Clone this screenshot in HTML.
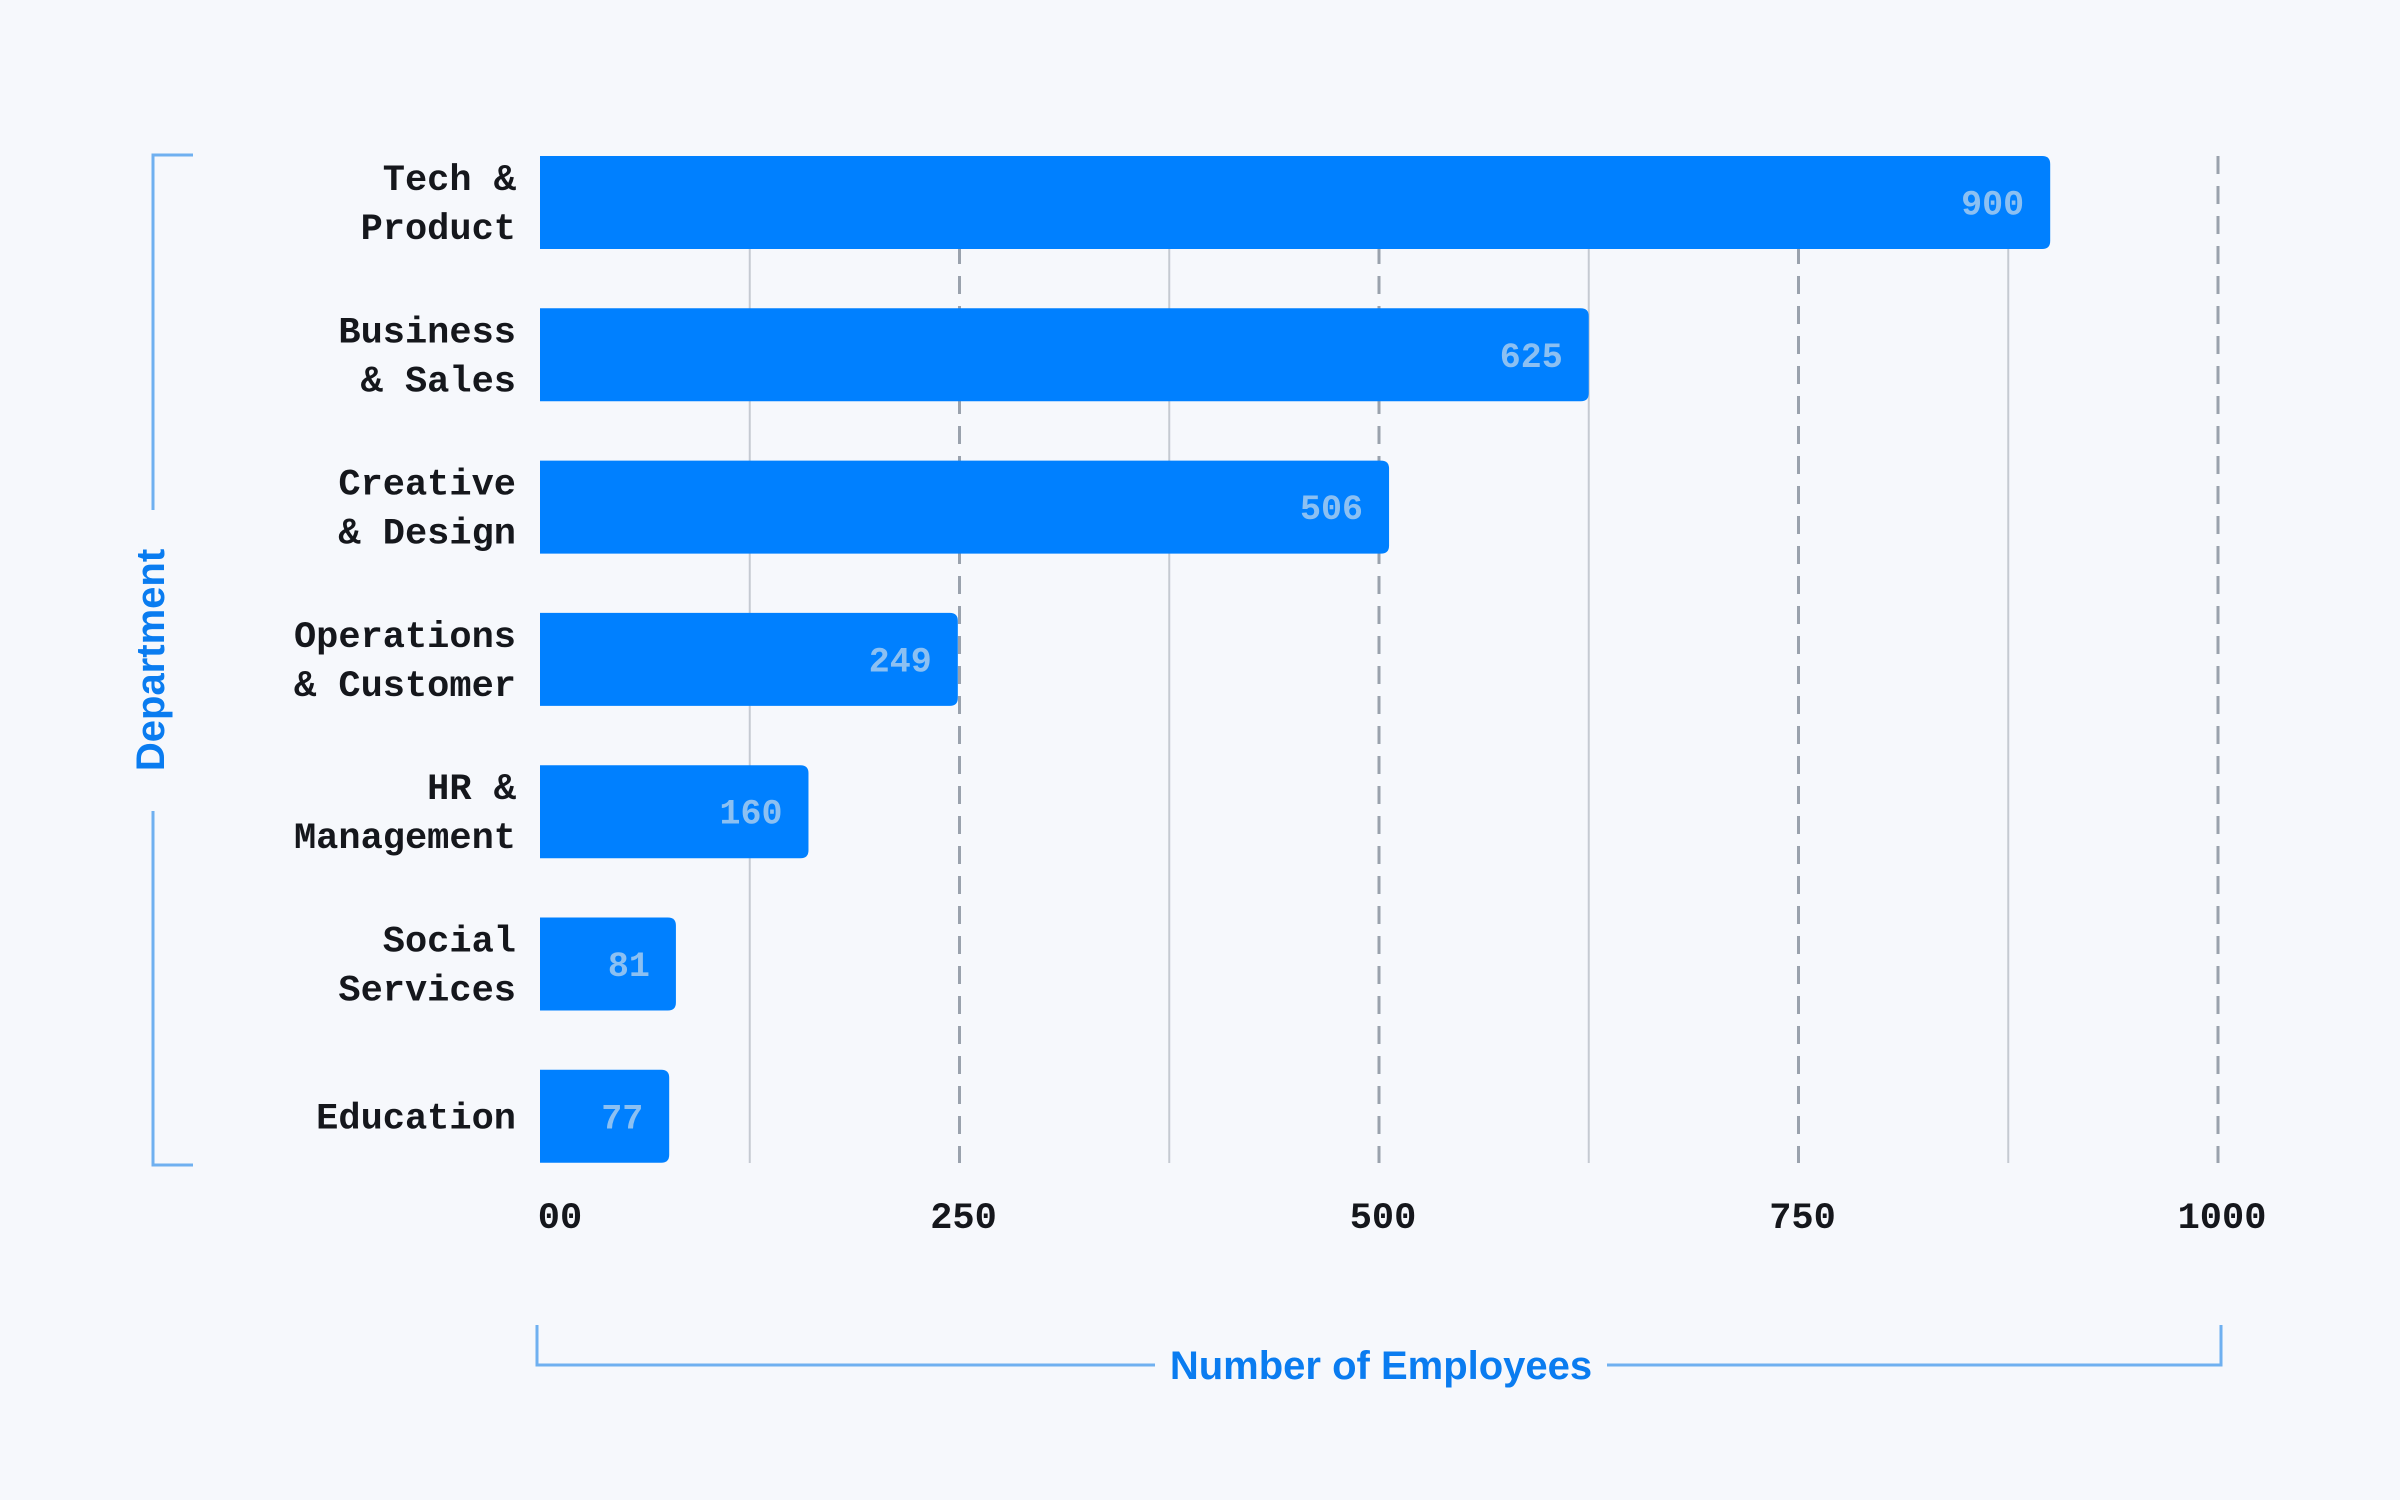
<!DOCTYPE html>
<html><head><meta charset="utf-8"><style>
html,body{margin:0;padding:0;background:#f6f8fc;}
svg{display:block;}
.cat{font-family:"Liberation Mono",monospace;font-weight:bold;font-size:37px;fill:#15171c;}
.val{font-family:"Liberation Mono",monospace;font-weight:bold;font-size:35px;fill:#8cc0f2;}
.tick{font-family:"Liberation Mono",monospace;font-weight:bold;font-size:37px;fill:#15171c;}
.axt{font-family:"Liberation Sans",sans-serif;font-weight:bold;font-size:40px;fill:#0a7cf0;}
</style></head><body>
<svg id="chart" width="2400" height="1500" viewBox="0 0 2400 1500" xmlns="http://www.w3.org/2000/svg">
<rect width="2400" height="1500" fill="#f6f8fc"/>
<g id="grid"></g>
<g id="bars"></g>
<g id="ticks"></g>
<path d="M193 155 H153 V510 M153 811 V1165 H193" fill="none" stroke="#6fb0f0" stroke-width="3"/>
<text class="axt" transform="translate(164,660) rotate(-90)" text-anchor="middle">Department</text>
<path d="M537 1325 V1365 H1155 M1607 1365 H2221 V1325" fill="none" stroke="#6fb0f0" stroke-width="3"/>
<text class="axt" x="1381" y="1379" text-anchor="middle">Number of Employees</text>
</svg>
<script>
const categories = [["Tech &","Product"],["Business","& Sales"],["Creative","& Design"],["Operations","& Customer"],["HR &","Management"],["Social","Services"],["Education"]];
const values = [900,625,506,249,160,81,77];
const tickValues = [0,250,500,750,1000];
const tickLabels = ["00","250","500","750","1000"];
const minorGrid = [125,375,625,875];

const NS="http://www.w3.org/2000/svg";
const X0=540,X1=2218,VMAX=1000;
const x=v=>X0+(v/VMAX)*(X1-X0);
const TOP=156,STEP=152.3,BH=93;
const y=i=>TOP+i*STEP;
const GT=156,GB=1163;
function mk(tag,attrs,parent){const e=document.createElementNS(NS,tag);for(const k in attrs)e.setAttribute(k,attrs[k]);parent.appendChild(e);return e;}
const grid=document.getElementById('grid'),bars=document.getElementById('bars'),ticks=document.getElementById('ticks');
minorGrid.forEach(v=>{
  const l=mk('line',{x1:x(v),x2:x(v),y1:GT,y2:GB,stroke:'#c5cad2','stroke-width':2},grid);
  
  
});
tickValues.forEach((v,i)=>{
  if(v>0){
    const l=mk('line',{x1:x(v),x2:x(v),y1:GT,y2:GB,stroke:'#9aa2ad','stroke-width':3,'stroke-dasharray':'18 12'},grid);
    
    
  }
  const t=mk('text',{x:v===0?x(v)+20:x(v)+4,y:1228,'text-anchor':'middle',class:'tick'},ticks);
  t.textContent=tickLabels[i];
  
  
});
values.forEach((v,i)=>{
  const x0=X0,x1=x(v),t=y(i),b=t+BH,r=8;
  const p=mk('path',{d:`M${x0} ${t} H${x1-r} Q${x1} ${t} ${x1} ${t+r} V${b-r} Q${x1} ${b} ${x1-r} ${b} H${x0} Z`,fill:'#0080ff'},bars);
  
  
  const vt=mk('text',{x:x1-26,y:t+BH/2+12,'text-anchor':'end',class:'val'},bars);
  vt.textContent=v;
  
  
  const lines=categories[i];
  const ct=mk('text',{class:'cat','text-anchor':'end'},bars);
  
  
  const cy=t+BH/2+12-(lines.length-1)*24.5;
  lines.forEach((s,j)=>{const ts=mk('tspan',{x:516,y:cy+j*49},ct);ts.textContent=s;});
});
</script>
</body></html>
